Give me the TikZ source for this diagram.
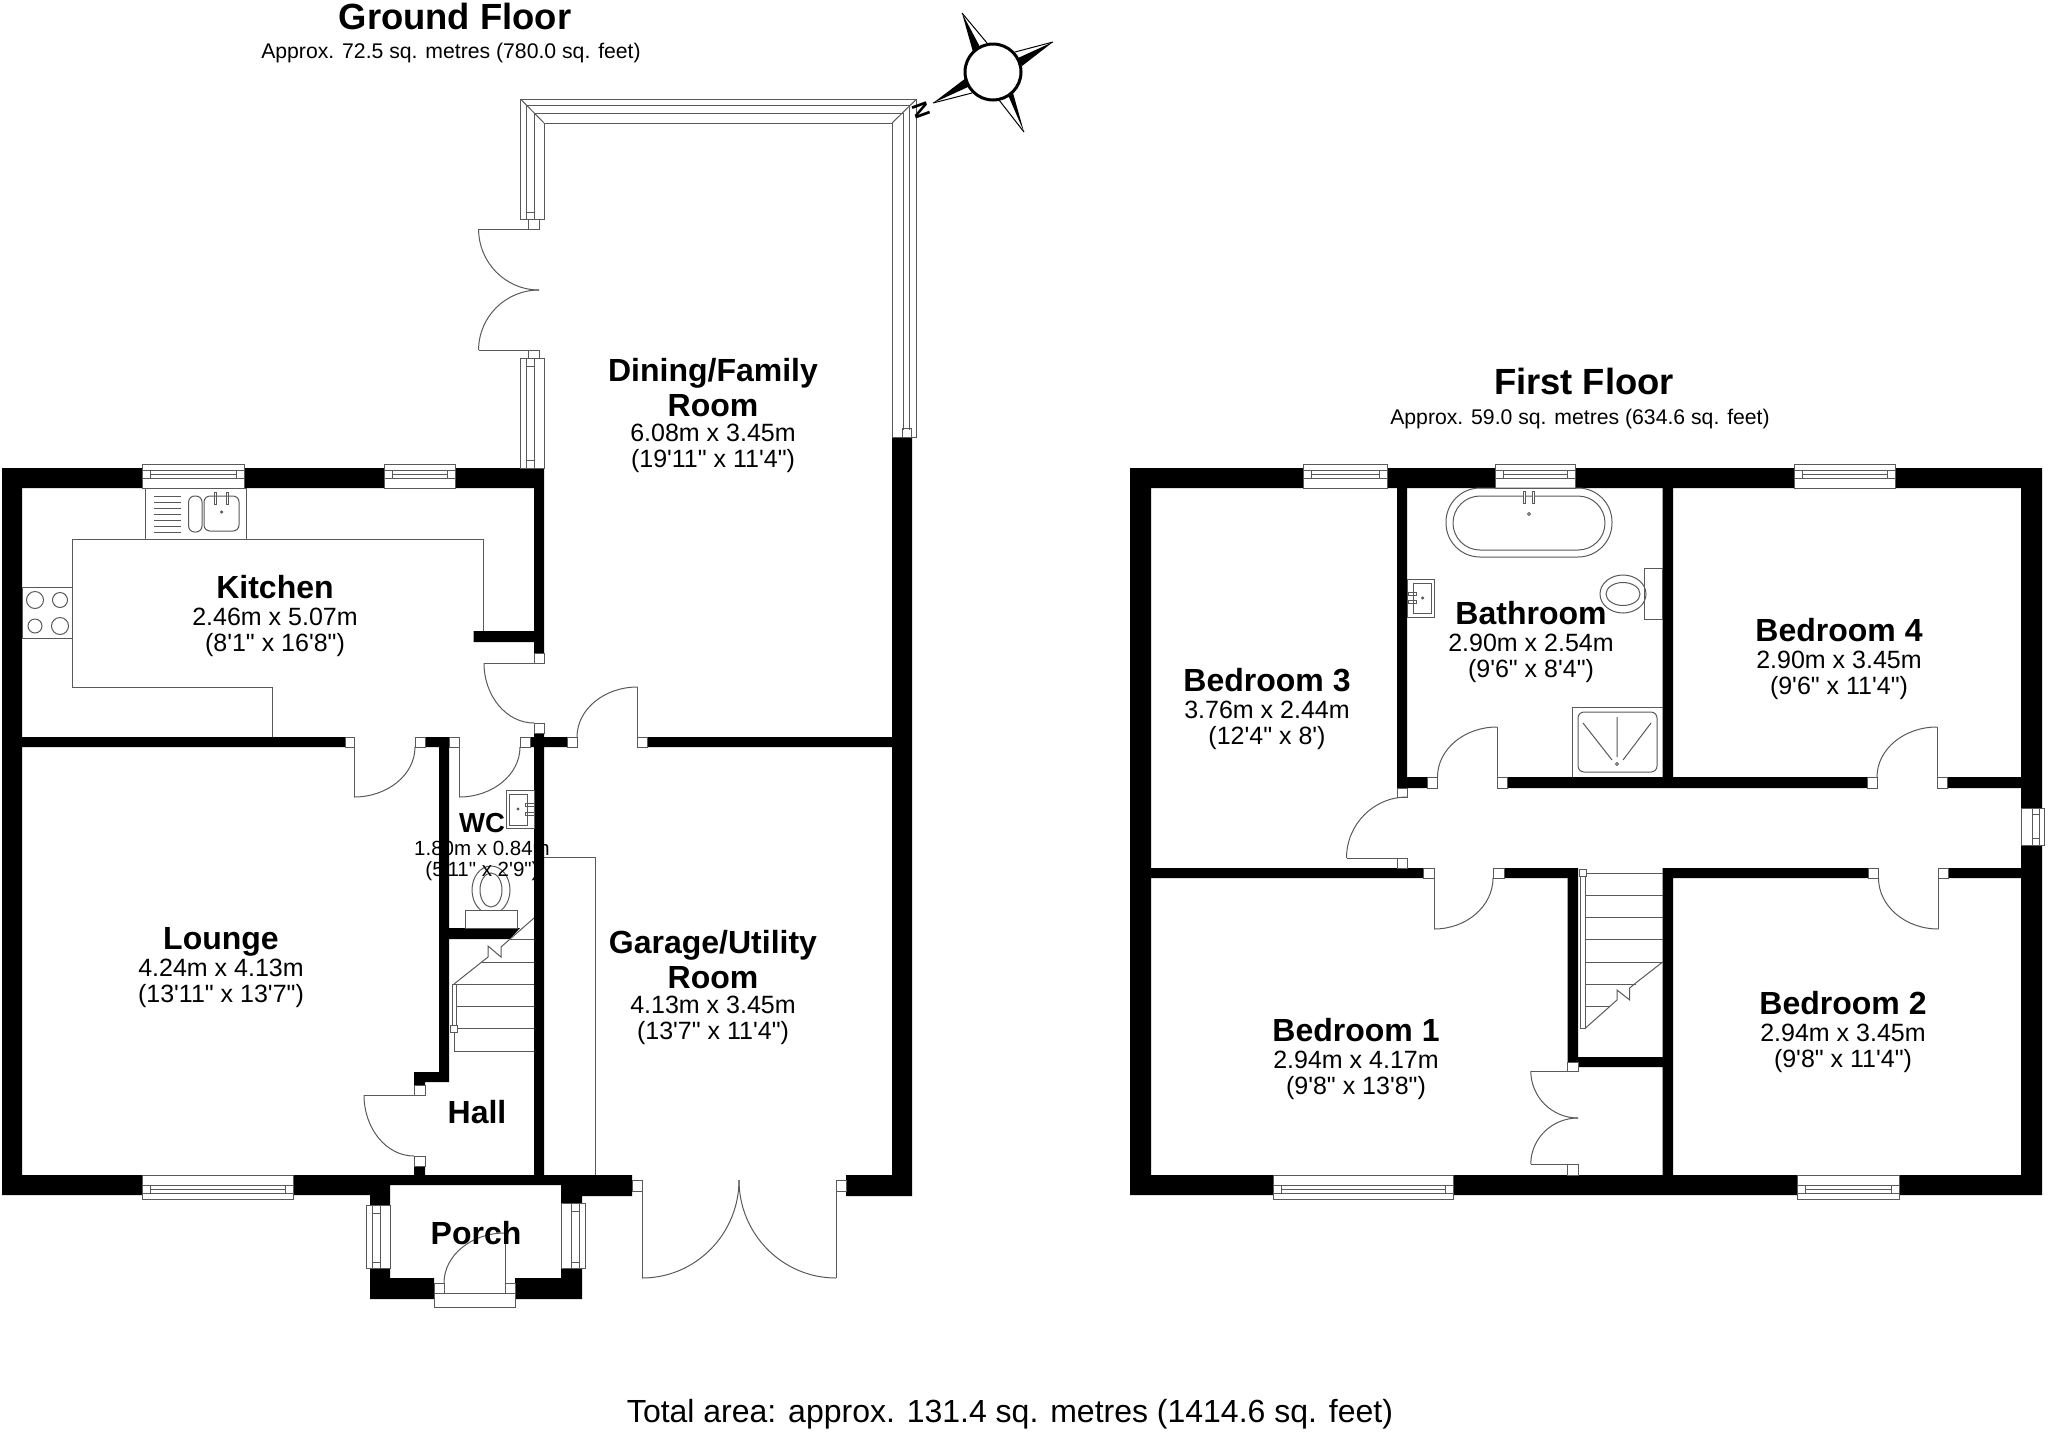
\documentclass[tikz,border=0pt]{standalone}
\usepackage{fontspec}
\usepackage{xcolor}
\usetikzlibrary{calc}
\newfontfamily\planfont{Liberation Sans}
\colorlet{myline}{black!65}
\tikzstyle{wall}=[fill=black,draw=none]
\tikzstyle{fitting}=[draw=myline,line width=1pt]
\tikzstyle{jambbox}=[draw=myline,fill=white,line width=1pt]
\tikzstyle{roomlabel}=[align=center,text=black,inner sep=0pt,font=\planfont\fontsize{25}{26}\selectfont]
\tikzstyle{smalllabel}=[align=center,text=black,inner sep=0pt,font=\planfont\fontsize{20.5}{21}\selectfont]
\tikzstyle{nameonly}=[inner sep=0pt,font=\planfont\bfseries\fontsize{32}{34}\selectfont]
\tikzstyle{headline}=[inner sep=0pt,font=\planfont\bfseries\fontsize{36.4}{40}\selectfont]
\tikzstyle{subline}=[inner sep=0pt,font=\planfont\fontsize{21.2}{24}\selectfont]
\newcommand{\roomname}[1]{{\bfseries\fontsize{32}{26}\selectfont #1}\\[1pt]}
\newcommand{\roomtop}[1]{{\bfseries\fontsize{32}{26}\selectfont #1}\\[5.6pt]}
\newcommand{\roomnext}[1]{{\bfseries\fontsize{32}{26}\selectfont #1}\\[-1.5pt]}
\newcommand{\swing}[3]{\draw[fitting] (#1) .. controls ($(#1)!.552!(#2)$) and ($(#3)!.552!(#2)$) .. (#3);}
\newcommand{\jamb}[2]{\draw[jambbox] (#1) rectangle (#2);}
\newcommand{\topwin}[2]{%
    \draw[jambbox] (#1,464) rectangle (#2,488);
    \draw[fitting] (#1,470)--(#2,470) (#1,478)--(#2,478) (#1+8,474)--(#2-8,474) (#1+8,470)--(#1+8,478) (#2-8,470)--(#2-8,478);}
\newcommand{\botwin}[2]{%
    \draw[jambbox] (#1,1175) rectangle (#2,1199);
    \draw[fitting] (#1,1185)--(#2,1185) (#1,1193)--(#2,1193) (#1+8,1189)--(#2-8,1189) (#1+8,1185)--(#1+8,1193) (#2-8,1185)--(#2-8,1193);}
\newcommand{\sidewin}[4]{%
    \draw[jambbox] (#1,#3) rectangle (#2,#4);}

\begin{document}
\begin{tikzpicture}[x=1pt,y=-1pt]
    \useasboundingbox (0,0) rectangle (2048,1433);

    % ground floor walls
    \fill[wall] (2,468) rectangle (544,488) (2,468) rectangle (22,1195) (534,468) rectangle (544,653)
        (473.5,631) rectangle (534,642) (22,737) rectangle (345,747) (425,737) rectangle (449,747)
        (439,737) rectangle (449,1082) (414,1072) rectangle (449,1082) (414,1072) rectangle (425,1085)
        (534,733) rectangle (544,1176) (530,737) rectangle (567,747) (647,737) rectangle (892,747)
        (892,437) rectangle (912,1196) (846,1175) rectangle (912,1196) (414,1166) rectangle (425,1176)
        (2,1175) rectangle (370,1195) (370,1175) rectangle (390,1206) (390,1175) rectangle (561,1185)
        (561,1175) rectangle (582,1206) (582,1175) rectangle (632,1196)
        (370,1268) rectangle (390,1299) (390,1278) rectangle (434,1299)
        (515,1278) rectangle (561,1299) (561,1268) rectangle (582,1299);
    \fill[wall] (449,928)--(520,928)--(510,939)--(449,939)--cycle;

    % ground floor windows
    \topwin{142.5}{244}
    \topwin{384}{455}
    \botwin{142}{293}
    \sidewin{366.5}{390}{1205}{1268}
    \draw[fitting] (372,1213) rectangle (380,1262) (372,1205)--(372,1268) (380,1205)--(380,1268);
    \sidewin{561.4}{585}{1203}{1268}
    \draw[fitting] (571,1211) rectangle (579,1262) (571,1203)--(571,1268) (579,1203)--(579,1268);

    % ground floor jambs
    \jamb{345,737}{354.5,747}
    \jamb{415,737}{425,747}
    \jamb{449,737}{459,747}
    \jamb{520,737}{530,747}
    \jamb{567,737}{577,747}
    \jamb{637.5,737}{647,747}
    \jamb{534,653}{544,663}
    \jamb{534,723}{544,733}
    \jamb{414,1085}{425,1095}
    \jamb{414,1156}{425,1166}
    \jamb{632,1180}{642,1191}
    \jamb{836,1180}{846,1191}
    \jamb{434,1283}{444,1293}
    \jamb{505,1283}{515,1293}
    \draw[jambbox] (434,1293) rectangle (515,1307);

    % ground floor doors
    \draw[fitting] (354,747)--(354,797);
    \swing{354,797}{415,797}{415,747}
    \draw[fitting] (459,747)--(459,797);
    \swing{459,797}{520,797}{520,747}
    \draw[fitting] (484,663)--(534,663);
    \swing{484,663}{484,723}{534,723}
    \draw[fitting] (637.5,687)--(637.5,737);
    \swing{637.5,687}{577,687}{577,737}
    \draw[fitting] (364,1095)--(414,1095);
    \swing{364,1095}{364,1156}{414,1156}
    \draw[fitting] (642,1191)--(642,1278) (836,1191)--(836,1278);
    \swing{642,1278}{739,1278}{739,1180}
    \swing{836,1278}{739,1278}{739,1180}
    \draw[fitting] (505,1233)--(505,1283);
    \swing{505,1233}{444,1233}{444,1283}

    % conservatory frame
    \draw[fitting] (520.5,219)--(520.5,99)--(916.7,99)--(916.7,437)--(892,437)--(892,123)--(544,123)--(544,219)--cycle;
    \draw[fitting] (526,212)--(526,105)--(909,105)--(909,430) (534,212)--(534,113)--(903,113)--(903,430);
    \draw[fitting] (520.5,99)--(544,123) (916.7,99)--(892,123);
    \draw[fitting] (526,212) rectangle (534,219) (902,428) rectangle (911,437);
    \jamb{528,219}{539,229}
    \jamb{528,350}{539,358}
    \draw[fitting] (520.5,358) rectangle (544,468) (526,358)--(526,468) (534,358)--(534,468);
    \draw[fitting] (526,358) rectangle (534,366) (526,460) rectangle (534,468);
    \draw[fitting] (478.6,229)--(528,229) (478.6,350)--(528,350);
    \swing{478.6,229}{478.6,290}{539,290}
    \swing{478.6,350}{478.6,290}{539,290}

    % kitchen
    \draw[fitting] (483.7,631)--(483.7,539)--(72.6,539)--(72.6,687)--(272,687)--(272,737);
    \draw[fitting] (145,488) rectangle (246.5,539);
    \foreach \y in {496,502,508,514,520,526,532}
        \draw[fitting] (154,\y)--(181,\y);
    \draw[fitting,rounded corners=6pt] (188.6,496) rectangle (202,532);
    \draw[fitting,rounded corners=6pt] (204,496) rectangle (239,531);
    \draw[fitting] (214,492) rectangle (216,504) (226,492) rectangle (228,504);
    \draw[fitting] (221.6,512) circle (1pt);
    \draw[fitting] (22,587) rectangle (72.6,638);
    \draw[fitting] (35,600) circle (8.5pt) (60,600) circle (7.5pt) (35,626) circle (7pt) (60,626) circle (8.5pt);

    % wc
    \draw[fitting] (506,790) rectangle (534,828) (509,794) rectangle (527,825);
    \draw[fitting] (525,803.5) rectangle (534,806.5) (525,812.5) rectangle (534,815.5);
    \draw[fitting] (518,809) circle (1pt);
    \draw[fitting] (491,890) ellipse (19pt and 24pt) (491,890) ellipse (11pt and 17pt);
    \draw[jambbox] (465,910) rectangle (517,928);

    % ground floor stairs and store
    \foreach \y in {984,1006,1028,1051}
        \draw[fitting] (454,\y)--(534,\y);
    \draw[fitting] (482,962)--(534,962) (510,939)--(534,939);
    \draw[fitting] (534,918)--(501,947)--(501,957)--(488,946)--(488,957)--(454,984);
    \draw[jambbox] (452,984) rectangle (456,1028);
    \jamb{450,1025}{457,1032}
    \draw[fitting] (454,1032)--(454,1051);
    \draw[fitting] (544,857)--(595,857)--(595,1175);

    % first floor walls
    \fill[wall] (1130,468) rectangle (2042,488) (1130,468) rectangle (1151,1195) (2021,468) rectangle (2042,1195)
        (1130,1175) rectangle (2042,1195) (1151,868) rectangle (1423,878) (1504,868) rectangle (1578,878)
        (1663,868) rectangle (1868,878) (1948,868) rectangle (2021,878) (1397,777) rectangle (1427,788)
        (1507.5,777) rectangle (1867,788) (1947.5,777) rectangle (2021,788) (1397,488) rectangle (1407,788)
        (1662.5,488) rectangle (1673,777) (1567.5,868) rectangle (1578,1062) (1578,1057) rectangle (1663,1067)
        (1662.6,868) rectangle (1673,1175);

    % first floor windows
    \topwin{1303}{1387}
    \topwin{1495}{1575.6}
    \topwin{1794.6}{1895}
    \botwin{1273}{1453}
    \botwin{1797}{1899}
    \sidewin{2021}{2044.7}{808}{845}
    \draw[fitting] (2032,814) rectangle (2039.6,838) (2032,808)--(2032,845) (2039.6,808)--(2039.6,845);

    % first floor jambs
    \jamb{1427,777}{1437.5,788}
    \jamb{1497,777}{1507.5,788}
    \jamb{1867,777}{1877,788}
    \jamb{1937,777}{1947.5,788}
    \jamb{1397,788}{1407,797}
    \jamb{1397,858}{1407,868}
    \jamb{1423,868}{1434,878}
    \jamb{1493,868}{1504,878}
    \jamb{1868,868}{1878.5,878}
    \jamb{1938.4,868}{1948,878}
    \jamb{1567.5,1062}{1578,1071}
    \jamb{1567.5,1164}{1578,1175}

    % first floor doors
    \draw[fitting] (1497,727)--(1497,777);
    \swing{1497,727}{1437.5,727}{1437.5,777}
    \draw[fitting] (1937,727)--(1937,777);
    \swing{1937,727}{1877,727}{1877,777}
    \draw[fitting] (1346.5,858)--(1397,858);
    \swing{1346.5,858}{1346.5,797}{1407,797}
    \draw[fitting] (1434,878)--(1434,929);
    \swing{1434,929}{1493,929}{1493,878}
    \draw[fitting] (1938.4,878)--(1938.4,929);
    \swing{1938.4,929}{1878.5,929}{1878.5,878}
    \draw[fitting] (1530.8,1071)--(1567.5,1071) (1530.8,1164)--(1567.5,1164);
    \swing{1530.8,1071}{1530.8,1118}{1578,1118}
    \swing{1530.8,1164}{1530.8,1118}{1578,1118}

    % first floor stairs
    \foreach \y in {873,895,917,939,962}
        \draw[fitting] (1585.5,\y)--(1662.6,\y);
    \draw[fitting] (1585.5,984)--(1635.7,984) (1585.5,1006)--(1610,1006);
    \draw[fitting] (1662.6,962)--(1635.7,983)--(1629.7,988)--(1629.7,1000)--(1617,990)--(1617,1000)--(1585.5,1028);
    \draw[jambbox] (1580,873) rectangle (1585.5,1028);
    \jamb{1579,869}{1586,876}

    % bathroom
    \draw[fitting,rounded corners=34pt] (1446,488) rectangle (1612,557);
    \draw[fitting,rounded corners=27pt] (1453,496) rectangle (1605,550);
    \draw[jambbox] (1523,491) rectangle (1525.5,503) (1532,491) rectangle (1534.5,503);
    \draw[fitting] (1529,514) circle (1.5pt);
    \draw[fitting] (1407,579) rectangle (1434.5,617) (1413,583) rectangle (1431,613);
    \draw[fitting] (1408,592.5) rectangle (1416,595.5) (1408,600.5) rectangle (1416,603.5);
    \draw[fitting] (1422.6,598) circle (1pt);
    \draw[fitting] (1644,568) rectangle (1662.5,619);
    \draw[fitting] (1623,594) ellipse (23pt and 19pt) (1623,594) ellipse (17pt and 11.5pt);
    \draw[fitting] (1572,777)--(1572,707)--(1662.5,707);
    \draw[fitting,rounded corners=6pt] (1578,712) rectangle (1657,772);
    \draw[fitting] (1617,717)--(1617,757) (1583,723)--(1612,760) (1651,723)--(1623,760);
    \draw[fitting] (1617,764) circle (1.5pt);

    % compass
    \draw[line width=3pt,fill=white] (993,72) circle (28pt);
    \fill[black] (962,13)--(980,47)--(973,52)--cycle (1053,42)--(1018,58)--(1022,66)--cycle
        (1024,132)--(1013,93)--(1008,95)--cycle (933,103)--(966,78)--(968,87)--cycle;
    \draw[fitting,draw=black] (962,13)--(987,43) (1053,42)--(1015,52) (1024,132)--(999,100) (933,103)--(972,93);
    \node[rotate=-70,inner sep=0pt,font=\planfont\bfseries\fontsize{22}{24}\selectfont] (north) at (921,110) {N};

    % titles
    \node[headline] (groundtitle) at (455,16) {Ground Floor};
    \node[subline] (groundarea) at (451,53) {Approx. 72.5 sq. metres (780.0 sq. feet)};
    \node[headline] (firsttitle) at (1584,381) {First Floor};
    \node[subline] (firstarea) at (1580,419) {Approx. 59.0 sq. metres (634.6 sq. feet)};
    \node[inner sep=0pt,font=\planfont\fontsize{32}{36}\selectfont] (totalarea) at (1010,1414) {Total area: approx. 131.4 sq. metres (1414.6 sq. feet)};

    % rooms
    \node[roomlabel] (dining) at (713,415.3) {\roomtop{Dining/Family}\roomnext{Room}6.08m x 3.45m\\(19'11" x 11'4")};
    \node[roomlabel] (kitchen) at (275,615.6) {\roomname{Kitchen}2.46m x 5.07m\\(8'1" x 16'8")};
    \node[roomlabel] (lounge) at (221,967.6) {\roomname{Lounge}4.24m x 4.13m\\(13'11" x 13'7")};
    \node[smalllabel] (wc) at (482,847) {{\bfseries\fontsize{27.5}{21}\selectfont WC}\\[2pt]1.80m x 0.84m\\(5'11" x 2'9")};
    \node[nameonly] (hall) at (477,1112) {Hall};
    \node[nameonly] (porch) at (476,1233) {Porch};
    \node[roomlabel] (garage) at (713,987.3) {\roomtop{Garage/Utility}\roomnext{Room}4.13m x 3.45m\\(13'7" x 11'4")};
    \node[roomlabel] (bedthree) at (1267,708.6) {\roomname{Bedroom 3}3.76m x 2.44m\\(12'4" x 8')};
    \node[roomlabel] (bathroom) at (1531,642) {\roomname{Bathroom}2.90m x 2.54m\\(9'6" x 8'4")};
    \node[roomlabel] (bedfour) at (1839,659) {\roomname{Bedroom 4}2.90m x 3.45m\\(9'6" x 11'4")};
    \node[roomlabel] (bedone) at (1356,1059) {\roomname{Bedroom 1}2.94m x 4.17m\\(9'8" x 13'8")};
    \node[roomlabel] (bedtwo) at (1843,1032) {\roomname{Bedroom 2}2.94m x 3.45m\\(9'8" x 11'4")};
\end{tikzpicture}
\end{document}
